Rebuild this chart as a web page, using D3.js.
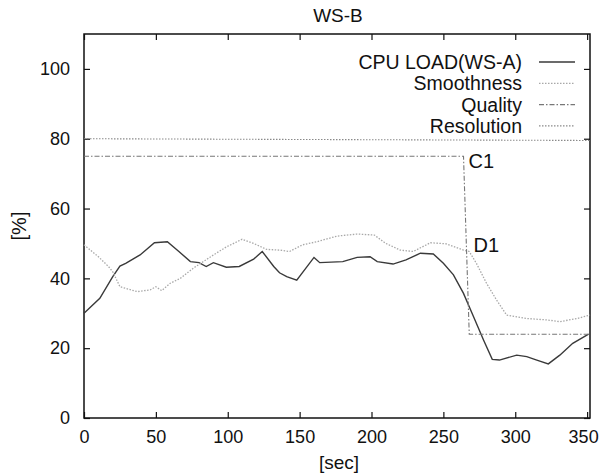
<!DOCTYPE html>
<html>
<head>
<meta charset="utf-8">
<script src="https://cdn.jsdelivr.net/npm/d3@7"></script>
<style>
  body { margin: 0; background: #fff; }
  text { font-family: "Liberation Sans", Arial, sans-serif; fill: #111; }
</style>
</head>
<body>
<div id="chart"></div>
<script>
// series
let cpuTime = [0, 11, 20, 25, 29, 39, 49, 58, 66, 74, 80, 85, 90, 99, 108, 118, 124, 132, 136, 141, 148, 160, 164, 180, 190, 199, 204, 215, 224, 234, 243, 250, 257, 264, 271, 278, 284, 289, 301, 308, 315, 323, 331, 340, 351]
let cpuLoad = [30, 34.3, 40.5, 43.5, 44.3, 46.7, 50.2, 50.5, 47.7, 44.8, 44.5, 43.4, 44.5, 43.2, 43.4, 45.5, 47.7, 43.4, 41.6, 40.5, 39.5, 46, 44.5, 44.8, 46, 46.2, 44.8, 44.1, 45.3, 47.2, 47, 44.3, 41, 35.7, 29, 22.3, 16.8, 16.6, 18, 17.6, 16.6, 15.5, 18, 21.4, 24]

let smoothTime = [0, 10, 17, 20, 25, 37, 46, 50, 54, 60, 67, 76, 90, 99, 110, 118, 127, 136, 143, 152, 162, 176, 190, 202, 210, 220, 229, 241, 252, 264, 268, 273, 280, 287, 294, 308, 322, 331, 343, 352]
let smoothness = [49.6, 46.2, 43.4, 41.9, 37.6, 36.2, 36.7, 37.6, 36.5, 38.6, 40, 42.9, 46.7, 49, 51.2, 50, 48.3, 48.1, 47.7, 49.6, 50.5, 52.1, 52.7, 52.4, 50, 48.1, 47.7, 50.2, 49.9, 48.1, 47.7, 44.3, 38.6, 33.8, 29.5, 28.5, 28.1, 27.6, 28.5, 29.5]

let qualityTime = [0, 264, 268, 352]
let quality = [75, 75, 24, 24]

let resolutionTime = [0, 352]
let resolution = [80, 79.5]

let xTicks = [0, 50, 100, 150, 200, 250, 300, 350]
let yTicks = [0, 20, 40, 60, 80, 100]

let legendNames = ["CPU LOAD(WS-A)", "Smoothness", "Quality", "Resolution"]

let width = 601, height = 475
let margin = { top: 34, bottom: 57, left: 84, right: 11 }

let svg = d3.select("#chart").append("svg")
    .attr("width", width)
    .attr("height", height)

let xScale = d3.scaleLinear().domain([0, 352]).range([margin.left, width - margin.right])
let yScale = d3.scaleLinear().domain([0, 110]).range([height - margin.bottom, margin.top])

let styles = [
    { stroke: "#3a3a3a", width: 1.4, dash: null },
    { stroke: "#a8a8a8", width: 1.3, dash: "1.5,1.5" },
    { stroke: "#777", width: 1.1, dash: "5,2,1.5,2" },
    { stroke: "#8a8a8a", width: 1.1, dash: "1.5,1.5" }
]

// frame
svg.append("rect")
    .attr("x", xScale(0))
    .attr("y", yScale(110))
    .attr("width", xScale(352) - xScale(0))
    .attr("height", yScale(0) - yScale(110))
    .style("fill", "none")
    .style("stroke", "#111")
    .style("stroke-width", 1.5)

// inward ticks on all sides
let tickLen = 6
let xAxisG = svg.append("g").call(d3.axisBottom(xScale).tickValues(xTicks).tickSize(-tickLen).tickPadding(12).tickFormat(d3.format("d")))
    .attr("transform", "translate(0," + yScale(0) + ")")
    .call(g => g.select(".domain").remove())
svg.append("g").call(d3.axisTop(xScale).tickValues(xTicks).tickSize(-tickLen).tickFormat(""))
    .attr("transform", "translate(0," + yScale(110) + ")")
    .call(g => g.select(".domain").remove())
svg.append("g").call(d3.axisLeft(yScale).tickValues(yTicks).tickSize(-tickLen).tickPadding(14).tickFormat(d3.format("d")))
    .attr("transform", "translate(" + xScale(0) + ",0)")
    .call(g => g.select(".domain").remove())
svg.append("g").call(d3.axisRight(yScale).tickValues(yTicks).tickSize(-tickLen).tickFormat(""))
    .attr("transform", "translate(" + xScale(352) + ",0)")
    .call(g => g.select(".domain").remove())

svg.selectAll(".tick line").style("stroke", "#111").style("stroke-width", 1.2)
svg.selectAll(".tick text")
    .style("font-family", "'Liberation Sans', Arial, sans-serif")
    .style("font-size", "18px")
    .style("fill", "#111")
// last label sits at the right edge of the page
xAxisG.selectAll(".tick text").filter(d => d === 350).attr("dx", -4)

// titles
svg.append("text")
    .attr("x", 338).attr("y", 22)
    .style("text-anchor", "middle")
    .style("font-size", "19px")
    .text("WS-B")

svg.append("text")
    .attr("x", 339).attr("y", 469)
    .style("text-anchor", "middle")
    .style("font-size", "19px")
    .text("[sec]")

svg.append("text")
    .attr("transform", "translate(26,226) rotate(-90)")
    .style("text-anchor", "middle")
    .style("font-size", "20px")
    .text("[%]")

// series
let series = [
    d3.zip(cpuTime, cpuLoad),
    d3.zip(smoothTime, smoothness),
    d3.zip(qualityTime, quality),
    d3.zip(resolutionTime, resolution)
]
let line = d3.line().x(d => xScale(d[0])).y(d => yScale(d[1]))

series.forEach((s, i) => {
    svg.append("path")
        .datum(s)
        .attr("d", line)
        .style("fill", "none")
        .style("stroke", styles[i].stroke)
        .style("stroke-width", styles[i].width)
        .style("stroke-dasharray", styles[i].dash)
})

// point labels
svg.append("text").attr("x", xScale(267.5)).attr("y", yScale(71.5))
    .style("font-size", "20px").text("C1")
svg.append("text").attr("x", xScale(271)).attr("y", yScale(47.5))
    .style("font-size", "20px").text("D1")

// legend
let legend = svg.append("g")
legendNames.forEach((name, i) => {
    let y = 62 + i * 21.3
    legend.append("text")
        .attr("x", 522).attr("y", y + 7)
        .style("text-anchor", "end")
        .style("font-size", "19.5px")
        .text(name)
    legend.append("line")
        .attr("x1", 539).attr("x2", 575)
        .attr("y1", y).attr("y2", y)
        .style("stroke", styles[i].stroke)
        .style("stroke-width", styles[i].width)
        .style("stroke-dasharray", styles[i].dash)
})
</script>
</body>
</html>
